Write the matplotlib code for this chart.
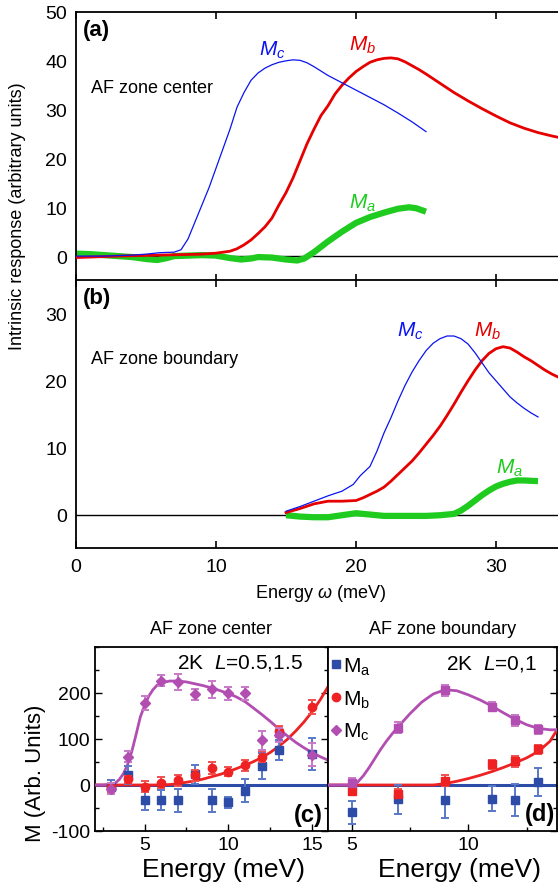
import matplotlib
matplotlib.use("Agg")
import matplotlib.pyplot as plt
from matplotlib.lines import Line2D

plt.rcParams['font.family'] = ['Liberation Sans', 'DejaVu Sans']
plt.rcParams['mathtext.fontset'] = 'custom'
plt.rcParams['mathtext.rm'] = 'Liberation Sans'
plt.rcParams['mathtext.it'] = 'Liberation Sans:italic'
plt.rcParams['mathtext.bf'] = 'Liberation Sans:bold'
plt.rcParams['axes.unicode_minus'] = False

# ---------------- intrinsic response, AF zone center (a) ----------------
a_mc_x = [0, 2, 4, 5, 6, 7, 7.5, 8, 8.5, 9, 9.5, 10, 10.5, 11, 11.5, 12, 12.5, 13, 13.5,
          14, 14.5, 15, 15.5, 16, 16.5, 17, 18, 19, 20, 21, 22, 23, 24, 25]
a_mc_y = [0, 0, 0.2, 0.4, 0.7, 0.8, 1.3, 3.5, 7, 10.5, 14, 18, 22, 26, 30.5, 33.5, 36, 37.5, 38.5,
          39.2, 39.7, 40, 40.2, 40.1, 39.6, 38.8, 37, 35.5, 34, 32.5, 31, 29.3, 27.5, 25.5]

a_mb_x = [0, 3, 6, 9, 10, 11, 11.5, 12, 12.5, 13, 13.5, 14, 14.5, 15, 15.5, 16, 16.5, 17, 17.5,
          18, 18.5, 19, 19.5, 20, 20.5, 21, 21.5, 22, 22.5, 23, 23.5, 24, 24.5, 25, 26, 27, 28,
          29, 30, 31, 32, 33, 34, 35]
a_mb_y = [-0.3, 0, 0.2, 0.4, 0.6, 1, 1.5, 2.3, 3.3, 4.6, 6, 7.8, 10.5, 13, 16, 19.5, 23, 26, 28.8,
          30.8, 33.2, 35, 36.5, 37.8, 38.8, 39.7, 40.2, 40.5, 40.6, 40.4, 39.8, 39, 38.2, 37.3, 35.4,
          33.5, 31.8, 30.2, 28.7, 27.3, 26.2, 25.3, 24.6, 24]

a_ma_x = [0, 1, 2, 3, 4, 5, 5.8, 6.5, 7, 8, 9, 10, 11, 11.8, 12.5, 13, 14, 15, 15.8, 16.3, 17,
          18, 19, 20, 21, 22, 23, 23.8, 24.3, 25]
a_ma_y = [0.5, 0.4, 0.2, 0, -0.2, -0.6, -0.8, -0.4, 0, 0.1, 0.2, 0.1, -0.4, -0.7, -0.5, -0.2,
          -0.3, -0.7, -0.9, -0.5, 0.8, 3, 5, 6.8, 8, 8.9, 9.7, 10, 9.8, 9.1]

# ---------------- intrinsic response, AF zone boundary (b) ----------------
b_mc_x = [15, 16, 17, 18, 19, 19.8, 20.3, 21, 21.5, 22, 22.5, 23, 23.5, 24, 24.5, 25, 25.5, 26,
          26.5, 27, 27.5, 28, 28.5, 29, 29.5, 30, 30.5, 31, 31.5, 32, 32.5, 33]
b_mc_y = [0.5, 1.2, 2, 2.8, 3.5, 4.5, 5.8, 7.2, 9.5, 12.2, 14.5, 17, 19.3, 21.3, 23, 24.5, 25.6,
          26.3, 26.7, 26.7, 26.3, 25.5, 24.2, 22.7, 21.2, 20, 18.8, 17.6, 16.7, 15.9, 15.2, 14.6]

b_mb_x = [15, 16, 17, 18, 19, 20, 20.5, 21, 21.5, 22, 22.5, 23, 23.5, 24, 24.5, 25, 25.5, 26,
          26.5, 27, 27.5, 28, 28.5, 29, 29.5, 30, 30.5, 31, 31.5, 32, 32.5, 33, 33.5, 34, 35]
b_mb_y = [0.3, 0.9, 1.6, 2, 2, 2.1, 2.5, 3, 3.5, 4.1, 5, 6, 7, 8, 9.2, 10.5, 11.8, 13.2, 14.8,
          16.5, 18.3, 20, 21.6, 23, 24.1, 24.8, 25.1, 24.9, 24.3, 23.6, 23, 22.3, 21.6, 21, 20]

b_ma_x = [15, 16, 17, 18, 19, 20, 21, 22, 23, 24, 25, 26, 27, 27.5, 28, 28.5, 29, 29.5, 30,
          30.5, 31, 31.5, 32, 33]
b_ma_y = [-0.1, -0.3, -0.4, -0.4, -0.1, 0.2, 0, -0.2, -0.2, -0.2, -0.2, -0.1, 0.1, 0.6, 1.3,
          2.1, 2.9, 3.6, 4.2, 4.6, 4.9, 5.1, 5.1, 5.0]

# ---------------- measured components, 2K, L=0.5,1.5 (c) ----------------
c_e = [3, 4, 5, 6, 7, 8, 9, 10, 11, 12, 13, 15]
c_ma = [-5, 22, -33, -33, -33, 23, -33, -37, -13, 41, 76, 67]
c_ma_err = [15, 20, 22, 22, 25, 20, 25, 12, 25, 28, 22, 35]
c_mb = [-5, 12, -4, 5, 10, 21, 37, 29, 43, 61, 117, 169]
c_mb_err = [10, 8, 12, 12, 12, 12, 12, 10, 12, 12, 12, 15]
c_mc = [-8, 61, 179, 227, 224, 197, 208, 199, 199, 97, 109, 66]
c_mc_err = [12, 12, 15, 12, 18, 12, 18, 14, 14, 20, 15, 25]

c_fit_x = [2, 2.5, 3, 3.25, 3.5, 3.75, 4, 4.25, 4.5, 4.75, 5, 5.25, 5.5, 5.75, 6, 6.5, 7, 7.5,
           8, 8.5, 9, 9.5, 10, 10.5, 11, 11.5, 12, 12.5, 13, 13.5, 14, 14.5, 15, 15.5, 16]
c_fit_mc = [0, 0, 1, 4, 12, 25, 45, 74, 110, 148, 172, 193, 207, 217, 222, 226, 226, 224, 220,
            216, 211, 205, 199, 191, 181, 167, 153, 138, 122, 107, 93, 81, 70, 61, 53]
c_fit_mb = [0, 0, 0, 0, 0, 0, 0, 0, 0, 0, 0, 0, 0, 0, 0, 1, 3, 6, 9, 13, 18, 23, 29, 36, 43,
            51, 60, 71, 84, 99, 117, 137, 160, 187, 218]

# ---------------- measured components, 2K, L=0,1 (d) ----------------
d_e = [5, 7, 9, 11, 12, 13]
d_ma = [-59, -31, -33, -30, -32, 7]
d_ma_err = [25, 32, 38, 27, 35, 30]
d_mb = [-13, -19, 9, 45, 52, 78]
d_mb_err = [8, 10, 12, 10, 12, 10]
d_mc = [5, 125, 206, 170, 141, 121]
d_mc_err = [10, 12, 12, 10, 12, 10]

d_fit_x = [4, 4.5, 5, 5.25, 5.5, 5.75, 6, 6.25, 6.5, 6.75, 7, 7.5, 8, 8.5, 9, 9.5, 10, 10.5,
           11, 11.5, 12, 12.5, 13, 13.5, 13.8]
d_fit_mc = [0, 0, 0, 6, 20, 38, 58, 78, 96, 112, 127, 155, 180, 198, 207, 205, 196, 185, 172,
            157, 143, 131, 123, 120, 120]
d_fit_mb = [0, 0, 0, 0, 0, 0, 0, 0, 0, 0, 0, 0, 0, 0, 3, 8, 14, 21, 29, 38, 48, 59, 73, 95, 120]

# ---------------- colours ----------------
TOP_BLUE, TOP_RED, TOP_GREEN = '#0a14f0', '#e60000', '#1ecb1e'
C_BLUE, C_RED, C_PURPLE = '#2c4ca8', '#ee2222', '#b24eb2'
E_BLUE, E_RED, E_PURPLE = '#5a78c8', '#f05050', '#c87ac8'

W, H = 558, 887
fig = plt.figure(figsize=(W / 100, H / 100), dpi=100)


def px_axes(left, top, right, bottom):
    return fig.add_axes([left / W, 1 - bottom / H, (right - left) / W, (bottom - top) / H])


ax_a = px_axes(76, 13, 566, 281.5)
ax_b = px_axes(76, 281.5, 566, 549)

for ax, ylim, yt in [(ax_a, (-5, 50), [0, 10, 20, 30, 40, 50]), (ax_b, (-5, 35), [0, 10, 20, 30])]:
    ax.set_xlim(0, 35)
    ax.set_ylim(*ylim)
    ax.set_yticks(yt)
    ax.set_xticks([0, 10, 20, 30])
    ax.tick_params(axis='x', direction='in', top=True, length=5, width=1.2, labelsize=14, pad=7)
    ax.tick_params(axis='y', length=0, labelsize=14, pad=6.5)
    for s in ax.spines.values():
        s.set_linewidth(1.3)
    ax.axhline(0, color='black', lw=1.0, zorder=1)
ax_a.tick_params(axis='x', labelbottom=False)

ax_a.plot(a_ma_x, a_ma_y, color=TOP_GREEN, lw=4.5, solid_capstyle='butt', zorder=2)
ax_a.plot(a_mb_x, a_mb_y, color=TOP_RED, lw=2.0, zorder=3)
ax_a.plot(a_mc_x, a_mc_y, color=TOP_BLUE, lw=0.9, zorder=4)

ax_b.plot(b_ma_x, b_ma_y, color=TOP_GREEN, lw=4.5, solid_capstyle='butt', zorder=2)
ax_b.plot(b_mb_x, b_mb_y, color=TOP_RED, lw=2.0, zorder=3)
ax_b.plot(b_mc_x, b_mc_y, color=TOP_BLUE, lw=0.9, zorder=4)

ax_a.text(0.5, 46.5, '(a)', fontsize=16, fontweight='bold', va='center', ha='left')
ax_a.text(1.05, 34.6, 'AF zone center', fontsize=13, va='center', ha='left')
ax_a.text(14.0, 42.4, '$M_c$', color=TOP_BLUE, fontsize=15, va='center', ha='center')
ax_a.text(20.5, 43.4, '$M_b$', color=TOP_RED, fontsize=15, va='center', ha='center')
ax_a.text(20.5, 11.0, '$M_a$', color=TOP_GREEN, fontsize=15, va='center', ha='center')

ax_b.text(0.5, 32.4, '(b)', fontsize=16, fontweight='bold', va='center', ha='left')
ax_b.text(1.05, 23.4, 'AF zone boundary', fontsize=13, va='center', ha='left')
ax_b.text(23.9, 27.5, '$M_c$', color=TOP_BLUE, fontsize=15, va='center', ha='center')
ax_b.text(29.4, 27.5, '$M_b$', color=TOP_RED, fontsize=15, va='center', ha='center')
ax_b.text(31.0, 7.0, '$M_a$', color=TOP_GREEN, fontsize=15, va='center', ha='center')

fig.text(18 / W, 1 - 216 / H, 'Intrinsic response (arbitrary units)', rotation=90,
         fontsize=13, ha='center', va='center')
fig.text(320 / W, 1 - 594 / H, r'Energy $\omega$ (meV)', fontsize=13, ha='center', va='center')

# ---------------- bottom panels ----------------
ax_c = px_axes(95, 648, 328.3, 832)
ax_d = px_axes(328.3, 648, 557, 832)

for ax in (ax_c, ax_d):
    ax.set_ylim(-100, 300)
    ax.set_yticks([-100, 0, 100, 200])
    ax.set_yticks(range(-100, 301, 50), minor=True)
    ax.set_xticks([x * 2.5 for x in range(0, 7)], minor=True)
    ax.tick_params(which='both', direction='in', width=1.0, labelsize=14)
    ax.tick_params(which='major', length=5)
    ax.tick_params(which='minor', length=3)
    ax.tick_params(axis='x', which='both', pad=3.5)
    ax.tick_params(axis='y', which='both', pad=3.5)
    for s in ax.spines.values():
        s.set_linewidth(1.3)

ax_c.set_xlim(2.05, 15.95)
ax_c.set_xticks([5, 10, 15])
ax_c.tick_params(axis='y', which='both', left=True, right=True)
ax_d.set_xlim(4, 13.8)
ax_d.set_xticks([5, 10])
ax_d.tick_params(axis='y', which='both', left=False, right=True, labelleft=False)

# (c) fits and points
ax_c.axhline(0, color=C_BLUE, lw=2.2, zorder=2)
ax_c.plot(c_fit_x, c_fit_mb, color=C_RED, lw=2.0, zorder=3)
ax_c.plot(c_fit_x, c_fit_mc, color=C_PURPLE, lw=2.0, zorder=4)
ax_c.errorbar(c_e, c_ma, yerr=c_ma_err, fmt='s', color=C_BLUE, ecolor=E_BLUE, ms=5.5,
              capsize=3, elinewidth=1.4, capthick=1.4, zorder=5)
ax_c.errorbar(c_e, c_mb, yerr=c_mb_err, fmt='o', color=C_RED, ecolor=E_RED, ms=6,
              capsize=3, elinewidth=1.4, capthick=1.4, zorder=6)
ax_c.errorbar(c_e, c_mc, yerr=c_mc_err, fmt='D', color=C_PURPLE, ecolor=E_PURPLE, ms=5,
              capsize=3, elinewidth=1.4, capthick=1.4, zorder=7)

# (d) fits and points
ax_d.axhline(0, color=C_BLUE, lw=2.2, zorder=2)
ax_d.plot(d_fit_x, d_fit_mb, color=C_RED, lw=2.0, zorder=3)
ax_d.plot(d_fit_x, d_fit_mc, color=C_PURPLE, lw=2.0, zorder=4)
ax_d.errorbar(d_e, d_ma, yerr=d_ma_err, fmt='s', color=C_BLUE, ecolor=E_BLUE, ms=5.5,
              capsize=3, elinewidth=1.4, capthick=1.4, zorder=5)
ax_d.errorbar(d_e, d_mb, yerr=d_mb_err, fmt='s', color=C_RED, ecolor=E_RED, ms=5.5,
              capsize=3, elinewidth=1.4, capthick=1.4, zorder=6)
ax_d.errorbar(d_e, d_mc, yerr=d_mc_err, fmt='s', color=C_PURPLE, ecolor=E_PURPLE, ms=5.5,
              capsize=3, elinewidth=1.4, capthick=1.4, zorder=7)

ax_c.text(6.95, 267, r'2K  $L$=0.5,1.5', fontsize=15, va='center', ha='left')
ax_c.text(15.6, -64, '(c)', fontsize=17, fontweight='bold', va='center', ha='right')
ax_d.text(9.03, 265, r'2K  $L$=0,1', fontsize=15, va='center', ha='left')
ax_d.text(13.72, -62, '(d)', fontsize=17, fontweight='bold', va='center', ha='right')

handles = [Line2D([], [], ls='none', marker='s', ms=5.5, color=C_BLUE),
           Line2D([], [], ls='none', marker='o', ms=6, color=C_RED),
           Line2D([], [], ls='none', marker='D', ms=5, color=C_PURPLE)]
ax_d.legend(handles, [r'M$_\mathrm{a}$', r'M$_\mathrm{b}$', r'M$_\mathrm{c}$'],
            loc='upper left', bbox_to_anchor=(-0.035, 1.01), frameon=False, fontsize=15,
            handlelength=0.5, handletextpad=0.1, labelspacing=0.55, borderaxespad=0.1)

fig.text(211.5 / W, 1 - 630 / H, 'AF zone center', fontsize=13, ha='center', va='center')
fig.text(442.5 / W, 1 - 630 / H, 'AF zone boundary', fontsize=13, ha='center', va='center')
fig.text(223 / W, 1 - 870 / H, 'Energy (meV)', fontsize=19, ha='center', va='center')
fig.text(459 / W, 1 - 870 / H, 'Energy (meV)', fontsize=19, ha='center', va='center')
fig.text(35 / W, 1 - 773 / H, 'M (Arb. Units)', fontsize=16, rotation=90, ha='center', va='center')

fig.savefig('out.png', dpi=100)
